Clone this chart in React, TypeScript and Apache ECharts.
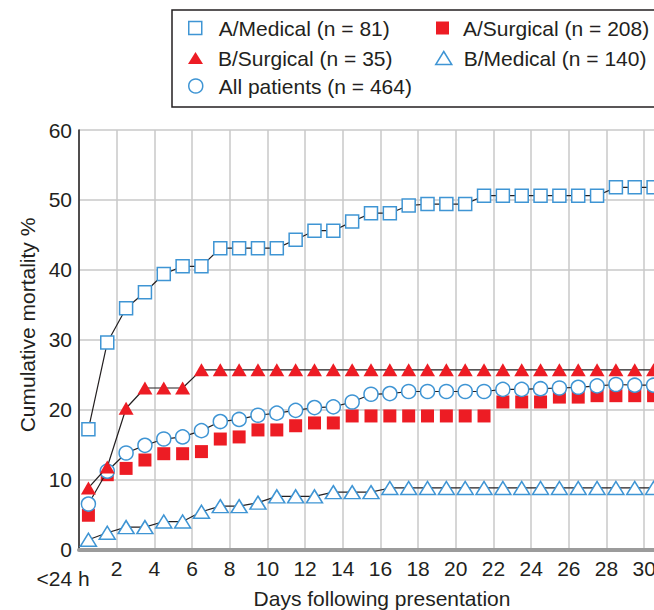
import React, { useEffect, useRef } from "react";
import * as echarts from "echarts";

const days = [0.5, 1.5, 2.5, 3.5, 4.5, 5.5, 6.5, 7.5, 8.5, 9.5, 10.5, 11.5, 12.5, 13.5, 14.5, 15.5, 16.5, 17.5, 18.5, 19.5, 20.5, 21.5, 22.5, 23.5, 24.5, 25.5, 26.5, 27.5, 28.5, 29.5, 30.5];

const aMedical = [17.2, 29.6, 34.5, 36.8, 39.4, 40.5, 40.5, 43.1, 43.1, 43.1, 43.1, 44.3, 45.6, 45.6, 46.9, 48.1, 48.1, 49.2, 49.4, 49.4, 49.4, 50.6, 50.6, 50.6, 50.6, 50.6, 50.6, 50.6, 51.8, 51.8, 51.8];
const aSurgical = [4.9, 10.7, 11.6, 12.8, 13.7, 13.7, 14.0, 15.8, 16.1, 17.1, 17.1, 17.7, 18.1, 18.1, 19.1, 19.1, 19.1, 19.1, 19.1, 19.1, 19.1, 19.1, 21.1, 21.1, 21.1, 21.8, 21.8, 22.0, 22.0, 22.0, 22.0];
const bSurgical = [8.8, 11.8, 20.2, 23.1, 23.1, 23.1, 25.7, 25.7, 25.7, 25.7, 25.7, 25.7, 25.7, 25.7, 25.7, 25.7, 25.7, 25.7, 25.7, 25.7, 25.7, 25.7, 25.7, 25.7, 25.7, 25.7, 25.7, 25.7, 25.7, 25.7, 25.7];
const bMedical = [1.4, 2.4, 3.2, 3.2, 4.0, 4.0, 5.4, 6.2, 6.2, 6.7, 7.6, 7.6, 7.6, 8.2, 8.2, 8.2, 8.8, 8.8, 8.8, 8.8, 8.8, 8.8, 8.8, 8.8, 8.8, 8.8, 8.8, 8.8, 8.8, 8.8, 8.8];
const allPatients = [6.5, 11.2, 13.8, 14.9, 15.8, 16.1, 17.0, 18.3, 18.6, 19.2, 19.5, 19.9, 20.3, 20.4, 21.1, 22.2, 22.3, 22.6, 22.6, 22.6, 22.6, 22.6, 22.9, 22.9, 23.0, 23.1, 23.2, 23.4, 23.6, 23.5, 23.5];

const seriesNames = [
  "A/Medical (n = 81)",
  "A/Surgical (n = 208)",
  "B/Surgical (n = 35)",
  "B/Medical (n = 140)",
  "All patients (n = 464)",
];

const xAxisName = "Days following presentation";
const yAxisName = "Cumulative mortality %";
const firstDayLabel = "<24 h";

const BLUE = "#3f95d4";
const RED = "#ed1c24";
const INK = "#231f20";
const FONT = "'Liberation Sans', Arial, Helvetica, sans-serif";
const FS = 21;

const pairs = (vals: number[]) => days.map((d, i) => [d, vals[i]]);

export default function App() {
  const ref = useRef<HTMLDivElement>(null);
  useEffect(() => {
    if (!ref.current) return;
    const chart = echarts.init(ref.current, undefined, { renderer: "svg" });

    const legendBase = (name: string, left: number, top: number, icon: string, iw: number, ih: number, itemStyle: any, pad: number) => ({
      data: [{ name, icon, itemStyle }],
      left,
      top,
      padding: 0,
      itemWidth: iw,
      itemHeight: ih,
      selectedMode: false,
      textStyle: { fontSize: FS, fontFamily: FONT, color: INK, lineHeight: 22, padding: [0, 0, 0, pad] },
    });

    const openStyle = { color: "#fff", borderColor: BLUE, borderWidth: 1.5 };
    const redStyle = { color: RED, borderWidth: 0 };

    chart.setOption({
      animation: false,
      backgroundColor: "#fff",
      textStyle: { fontFamily: FONT },
      grid: { left: 79, right: 0, top: 130, bottom: 60.5, containLabel: false },
      legend: [
        legendBase(seriesNames[0], 188, 17, "rect", 13, 13, openStyle, 12),
        legendBase(seriesNames[2], 188, 47, "triangle", 15, 12, redStyle, 10),
        legendBase(seriesNames[4], 188, 75, "circle", 14, 14, openStyle, 11),
        legendBase(seriesNames[1], 436, 17, "rect", 13, 13, redStyle, 9),
        legendBase(seriesNames[3], 435, 47, "triangle", 16, 13, openStyle, 7),
      ],
      xAxis: [
        {
          type: "value",
          min: 0,
          max: 31,
          interval: 2,
          axisLine: { show: true, onZero: false, lineStyle: { color: INK, width: 2 } },
          axisTick: { show: false },
          axisLabel: {
            fontSize: FS,
            color: INK,
            margin: 8,
            formatter: (v: number) => (v === 0 || v > 30 ? "" : String(v)),
          },
          splitLine: { show: true, lineStyle: { color: "#c8c8c8", width: 1.5 } },
        },
        {
          type: "value",
          position: "top",
          min: 0,
          max: 31,
          axisLine: { show: true, lineStyle: { color: "#9b9b9b", width: 4 } },
          axisTick: { show: false },
          axisLabel: { show: false },
          splitLine: { show: false },
        },
      ],
      yAxis: {
        type: "value",
        min: 0,
        max: 60,
        interval: 10,
        axisLine: { show: true, lineStyle: { color: INK, width: 1.5 } },
        axisTick: { show: false },
        axisLabel: { fontSize: FS, color: INK, margin: 7 },
        splitLine: { show: true, lineStyle: { color: "#c8c8c8", width: 1.5 } },
      },
      graphic: [
        {
          type: "rect",
          shape: { x: 172, y: 10, width: 520, height: 97 },
          style: { fill: "none", stroke: INK, lineWidth: 1.5 },
          silent: true,
        },
        {
          type: "text",
          x: 63,
          y: 578,
          style: { text: firstDayLabel, fontSize: FS, fontFamily: FONT, fill: INK, align: "center", verticalAlign: "middle" },
        },
        {
          type: "text",
          x: 382,
          y: 598,
          style: { text: xAxisName, fontSize: FS, fontFamily: FONT, fill: INK, align: "center", verticalAlign: "middle" },
        },
        {
          type: "text",
          x: 27,
          y: 325,
          rotation: Math.PI / 2,
          style: { text: yAxisName, fontSize: FS, fontFamily: FONT, fill: INK, align: "center", verticalAlign: "middle" },
        },
      ],
      series: [
        {
          name: seriesNames[1],
          type: "scatter",
          data: pairs(aSurgical),
          symbol: "rect",
          symbolSize: 13,
          itemStyle: { color: RED, opacity: 1 },
          z: 2,
        },
        {
          name: seriesNames[4],
          type: "line",
          data: pairs(allPatients),
          symbol: "circle",
          symbolSize: 14,
          showAllSymbol: true,
          itemStyle: { color: "#fff", borderColor: BLUE, borderWidth: 1.5 },
          lineStyle: { color: INK, width: 1.2 },
          z: 3,
        },
        {
          name: seriesNames[2],
          type: "line",
          data: pairs(bSurgical),
          symbol: "triangle",
          symbolSize: [15, 13],
          showAllSymbol: true,
          itemStyle: { color: RED, borderWidth: 0 },
          lineStyle: { color: INK, width: 1.2 },
          z: 4,
        },
        {
          name: seriesNames[3],
          type: "line",
          data: pairs(bMedical),
          symbol: "triangle",
          symbolSize: [16, 13],
          showAllSymbol: true,
          itemStyle: { color: "#fff", borderColor: BLUE, borderWidth: 1.5 },
          lineStyle: { color: INK, width: 1.2 },
          z: 4,
        },
        {
          name: seriesNames[0],
          type: "line",
          data: pairs(aMedical),
          symbol: "rect",
          symbolSize: 13,
          showAllSymbol: true,
          itemStyle: { color: "#fff", borderColor: BLUE, borderWidth: 1.5 },
          lineStyle: { color: INK, width: 1.2 },
          z: 4,
        },
      ],
    });
    return () => chart.dispose();
  }, []);
  return (
    <div style={{ position: "absolute", left: 0, top: 0, width: 654, height: 610, overflow: "hidden" }}>
      <div ref={ref} style={{ width: 666, height: 610 }} />
    </div>
  );
}
